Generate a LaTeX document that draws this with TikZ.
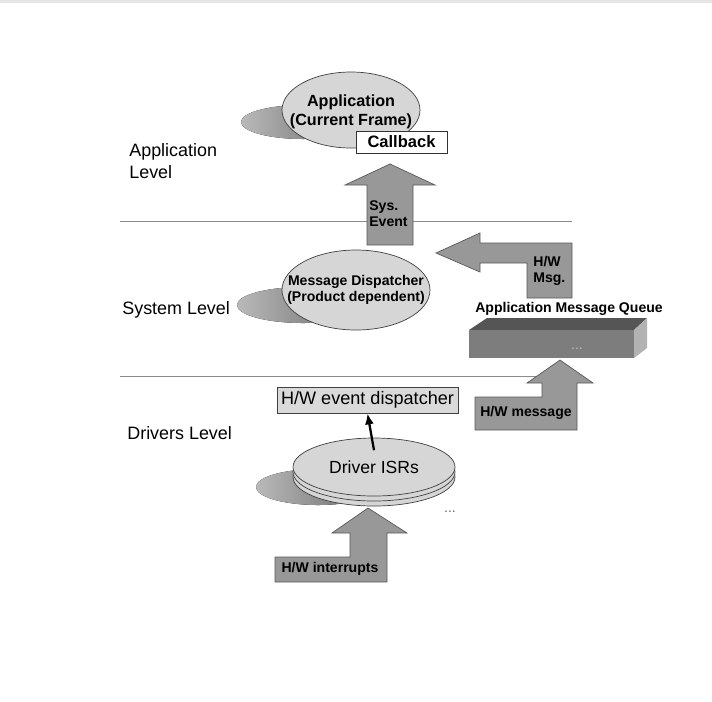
\documentclass[tikz,border=0pt]{standalone}
\usepackage{fontspec}
\setmainfont{Liberation Sans}
\usetikzlibrary{shapes.geometric,arrows.meta}

\definecolor{bubblegray}{RGB}{214,214,214}
\definecolor{arrowgray}{RGB}{152,152,152}
\definecolor{shadowgray}{RGB}{100,100,100}
\definecolor{queuefront}{RGB}{125,125,125}
\definecolor{queuetop}{RGB}{85,85,85}
\definecolor{queueside}{RGB}{178,178,178}
\definecolor{boxgray}{RGB}{218,218,218}

\tikzset{
  bubble/.style={draw=black!75, fill=bubblegray},
  blockarrow/.style={fill=arrowgray, draw=black!65, line width=0.4pt},
  dropshade/.style={left color=shadowgray!45, right color=shadowgray},
  lvltext/.style={anchor=west, align=left, inner sep=0pt, font=\fontsize{10.2}{12.5}\selectfont},
  boldtext/.style={inner sep=0pt, align=left, font=\bfseries\fontsize{8}{9}\selectfont},
  divider/.style={draw=black!45, line width=0.5pt}
}

\begin{document}
\begin{tikzpicture}[x=0.02cm, y=-0.02cm]
  \useasboundingbox (0,0) rectangle (712,701);
  \fill[black!10] (0,0) rectangle (712,3);

  % level dividers
  \draw[divider] (120,221) -- (572,221);
  \draw[divider] (120,376) -- (572,376);

  \node[lvltext] (applvl) at (129,161) {Application\\Level};
  \node[lvltext] (syslvl) at (122,310) {System Level};
  \node[lvltext] (drvlvl) at (127,433) {Drivers Level};

  % application level
  \fill[dropshade] (303,122) ellipse [x radius=62, y radius=17];
  \draw[bubble] (351,110) ellipse [x radius=69, y radius=38];
  \node[inner sep=0pt, align=center, font=\bfseries\fontsize{9.2}{10.8}\selectfont] (app) at (351,112)
        {Application\\(Current Frame)};
  \node[draw=black!80, fill=white, minimum width=1.82cm, minimum height=0.44cm, inner sep=0pt,
        font=\bfseries\fontsize{9.4}{11}\selectfont] (callback) at (401.5,142) {Callback};

  % system level
  \draw[blockarrow] (390,164) -- (435,185) -- (413,185) -- (413,245) -- (367,245)
    -- (367,185) -- (345,185) -- cycle;
  \node[boldtext, anchor=west] (sysev) at (369,214) {Sys.\\Event};

  \fill[dropshade] (303,305) ellipse [x radius=66, y radius=18];
  \draw[bubble] (356,290) ellipse [x radius=74, y radius=40];
  \node[inner sep=0pt, align=center, font=\bfseries\fontsize{8}{8.8}\selectfont] (disp) at (356,290)
        {Message Dispatcher\\(Product dependent)};

  \draw[blockarrow] (436,253) -- (480,233) -- (480,243) -- (572,243) -- (572,298)
    -- (527,298) -- (527,263) -- (480,263) -- (480,272) -- cycle;
  \node[boldtext, anchor=west] (hwmsg) at (533,271) {H/W\\Msg.};

  \node[boldtext] (qlabel) at (569,309) {Application Message Queue};
  \fill[queuetop] (469,330) -- (487,318) -- (647,318) -- (634,330) -- cycle;
  \fill[queueside] (634,330) -- (647,318) -- (647,348) -- (634,358) -- cycle;
  \fill[queuefront] (469,330) rectangle (634,358);
  \node[inner sep=0pt, font=\fontsize{8}{8}\selectfont, text=black!25] (queue) at (577,349) {...};

  % drivers level
  \draw[blockarrow] (560,360) -- (593,383) -- (577,383) -- (577,430) -- (475,430)
    -- (475,397) -- (542,397) -- (542,383) -- (527,383) -- cycle;
  \node[boldtext] (hwmessage) at (526,413) {H/W message};

  \node[draw=black!75, fill=boxgray, minimum width=3.62cm, minimum height=0.52cm, inner sep=0pt,
        font=\fontsize{10.3}{12}\selectfont] (evdisp) at (367.5,400) {H/W event dispatcher};

  \fill[dropshade] (318,487) ellipse [x radius=62, y radius=18];
  \draw[bubble] (374,477) ellipse [x radius=81, y radius=29];
  \draw[bubble] (374,472) ellipse [x radius=81, y radius=29];
  \draw[bubble] (374,467) ellipse [x radius=81, y radius=29];
  \node[inner sep=0pt, font=\fontsize{10}{12}\selectfont] (isr) at (374,467) {Driver ISRs};
  \node[inner sep=0pt, font=\fontsize{8}{8}\selectfont, text=black!60] (isrmore) at (450,512) {...};

  \draw[-{Latex[length=2.2mm,width=1.8mm]}, line width=1.3pt] ([yshift=0.2cm]isr.north) -- (evdisp.south);

  \draw[blockarrow] (368,508) -- (407,533) -- (387,533) -- (387,582) -- (275,582)
    -- (275,557) -- (350,557) -- (350,533) -- (332,533) -- cycle;
  \node[boldtext] (hwint) at (330,569) {H/W interrupts};

\end{tikzpicture}
\end{document}
